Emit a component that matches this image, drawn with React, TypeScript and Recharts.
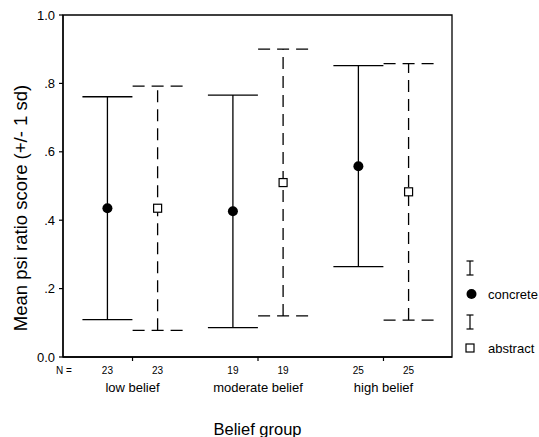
import React from "react";
import {
  ScatterChart,
  Scatter,
  XAxis,
  YAxis,
  ErrorBar,
  ReferenceArea,
  Legend,
} from "recharts";

// data (mean +/- 1 sd per belief group)
const groups = ["low belief", "moderate belief", "high belief"];
const seriesNames = ["concrete", "abstract"];
const concreteMean = [0.435, 0.426, 0.558];
const concreteSd = [0.326, 0.34, 0.294];
const concreteN = [23, 19, 25];
const abstractMean = [0.435, 0.51, 0.483];
const abstractSd = [0.357, 0.39, 0.375];
const abstractN = [23, 19, 25];
const yTicks = [0, 0.2, 0.4, 0.6, 0.8, 1.0];
const yTickLabels = ["0.0", ".2", ".4", ".6", ".8", "1.0"];

const FONT = '"Liberation Sans", Arial, Helvetica, sans-serif';
const SHIFT = 0.2;
const X_DOMAIN: [number, number] = [0.446, 3.546];
const Y_DOMAIN: [number, number] = [0, 1];

const concrete = groups.map((_, i) => ({
  x: i + 1 - SHIFT,
  y: concreteMean[i],
  sd: concreteSd[i],
}));
const abstract = groups.map((_, i) => ({
  x: i + 1 + SHIFT,
  y: abstractMean[i],
  sd: abstractSd[i],
}));
const xTicks = groups.flatMap((_, i) => [i + 1 - SHIFT, i + 1, i + 1 + SHIFT]);

function XTick(props: any) {
  const { x, y, index } = props;
  const g = Math.floor(index / 3);
  const k = index % 3;
  if (k === 1) {
    return (
      <g>
        <line x1={x} y1={y} x2={x} y2={y + 4} stroke="#000" strokeWidth={1.2} />
        <text x={x} y={y + 35} textAnchor="middle" fontSize={13} fontFamily={FONT} fill="#000">
          {groups[g]}
        </text>
      </g>
    );
  }
  const n = k === 0 ? concreteN[g] : abstractN[g];
  return (
    <text x={x} y={y + 17} textAnchor="middle" fontSize={10} fontFamily={FONT} fill="#000">
      {n}
    </text>
  );
}

function XLabel(props: any) {
  const vb = props.viewBox || { x: 63, y: 357, width: 389, height: 75 };
  return (
    <g fontFamily={FONT} fill="#000">
      <text x={vb.x + 1} y={vb.y + 17} textAnchor="middle" fontSize={10}>
        N =
      </text>
      <text x={vb.x + vb.width / 2} y={vb.y + 78} textAnchor="middle" fontSize={16.5}>
        Belief group
      </text>
    </g>
  );
}

function YLabel(props: any) {
  const vb = props.viewBox || { x: 23, y: 15, width: 40, height: 342 };
  const cx = vb.x - 3;
  const cy = vb.y + vb.height / 2 + 22;
  return (
    <text
      x={cx}
      y={cy}
      transform={`rotate(-90, ${cx}, ${cy})`}
      textAnchor="middle"
      dominantBaseline="central"
      fontSize={18.5}
      fontFamily={FONT}
      fill="#000"
    >
      Mean psi ratio score (+/- 1 sd)
    </text>
  );
}

const ConcreteDot = (p: any) => <circle cx={p.cx} cy={p.cy} r={5} fill="#000" />;
const AbstractBox = (p: any) => (
  <rect x={p.cx - 4} y={p.cy - 4} width={8} height={8} fill="#fff" stroke="#000" strokeWidth={1.2} />
);

function ErrIcon({ x, y }: { x: number; y: number }) {
  return (
    <g stroke="#000" strokeWidth={1.2}>
      <line x1={x - 3.5} y1={y - 7} x2={x + 3.5} y2={y - 7} />
      <line x1={x} y1={y - 7} x2={x} y2={y + 7} />
      <line x1={x - 3.5} y1={y + 7} x2={x + 3.5} y2={y + 7} />
    </g>
  );
}

// legend drawn by hand: error-bar glyph above each marker, like the SPSS key
function LegendBox() {
  return (
    <svg width={80} height={100} style={{ display: "block" }}>
      <ErrIcon x={10} y={10} />
      <circle cx={11.5} cy={36} r={5} fill="#000" />
      <text x={28} y={40.5} fontSize={13} fontFamily={FONT} fill="#000">
        {seriesNames[0]}
      </text>
      <ErrIcon x={10} y={64} />
      <rect x={6} y={86} width={8} height={8} fill="#fff" stroke="#000" strokeWidth={1.2} />
      <text x={28} y={94.5} fontSize={13} fontFamily={FONT} fill="#000">
        {seriesNames[1]}
      </text>
    </svg>
  );
}

export default function App() {
  return (
    <div style={{ position: "absolute", left: 0, top: 0, width: 539, height: 437, background: "#fff" }}>
      <ScatterChart width={539} height={437} margin={{ top: 15, right: 87, bottom: 5, left: 23 }}>
        <XAxis
          type="number"
          dataKey="x"
          domain={X_DOMAIN}
          ticks={xTicks}
          interval={0}
          tickSize={0}
          tickMargin={0}
          tickLine={false}
          tick={XTick}
          height={75}
          axisLine={{ stroke: "#000", strokeWidth: 1.3 }}
          label={{ content: XLabel }}
        />
        <YAxis
          type="number"
          dataKey="y"
          domain={Y_DOMAIN}
          ticks={yTicks}
          interval={0}
          width={40}
          tickSize={4}
          tickMargin={4}
          tickFormatter={(v: number) => yTickLabels[yTicks.indexOf(v)] ?? String(v)}
          tick={{ fontSize: 13, fill: "#000", fontFamily: FONT }}
          tickLine={{ stroke: "#000", strokeWidth: 1.2 }}
          axisLine={{ stroke: "#000", strokeWidth: 1.3 }}
          label={{ content: YLabel }}
        />
        <ReferenceArea
          x1={X_DOMAIN[0]}
          x2={X_DOMAIN[1]}
          y1={Y_DOMAIN[0]}
          y2={Y_DOMAIN[1]}
          fill="none"
          stroke="#000"
          strokeWidth={1.3}
          ifOverflow="visible"
        />
        <Legend
          layout="vertical"
          align="center"
          verticalAlign="middle"
          content={LegendBox}
          wrapperStyle={{ left: 460, top: 258, width: 80 }}
        />
        <Scatter name={seriesNames[0]} data={concrete} shape={ConcreteDot} isAnimationActive={false}>
          <ErrorBar dataKey="sd" direction="y" width={25} stroke="#000" strokeWidth={1.3} isAnimationActive={false} />
        </Scatter>
        <Scatter name={seriesNames[1]} data={abstract} shape={AbstractBox} isAnimationActive={false}>
          <ErrorBar
            dataKey="sd"
            direction="y"
            width={25}
            stroke="#000"
            strokeWidth={1.3}
            strokeDasharray="12 7"
            isAnimationActive={false}
          />
        </Scatter>
      </ScatterChart>
    </div>
  );
}
